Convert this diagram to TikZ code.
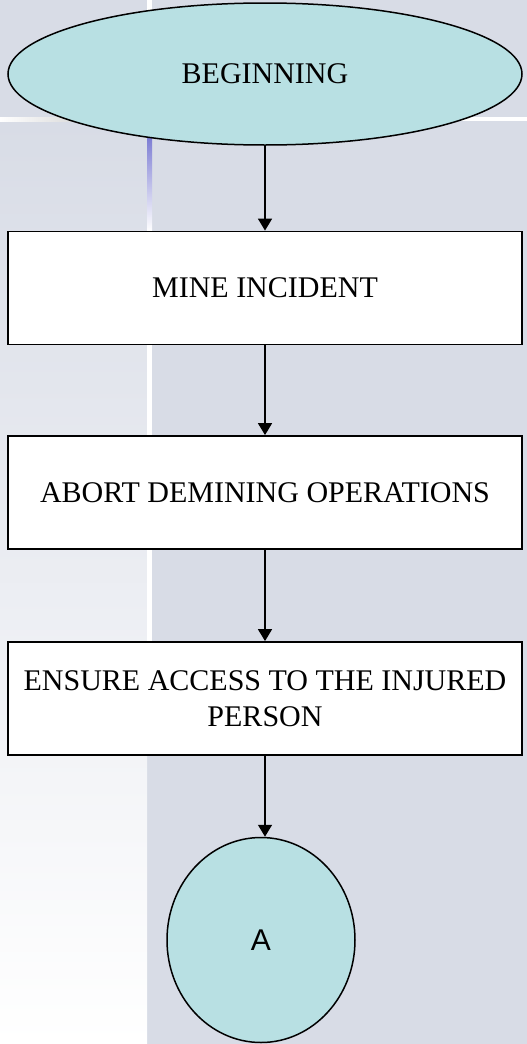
\documentclass[tikz,border=0pt]{standalone}
\usepackage{fontspec}
\setmainfont{Liberation Serif}
\newfontfamily\arialfont{Liberation Sans}
\usetikzlibrary{shapes.geometric,arrows.meta}
\definecolor{slidebg}{RGB}{216,220,230}
\definecolor{terminal}{RGB}{184,224,227}
\definecolor{accent}{RGB}{102,102,204}

\begin{document}
\begin{tikzpicture}[
        x=1pt, y=-1pt,
        every node/.style={font=\fontsize{30}{36}\selectfont},
        terminator/.style={
            ellipse,
            draw=black,
            fill=terminal,
            line width=1.5pt,
            inner sep=0pt,
        },
        process/.style={
            rectangle,
            draw=black,
            fill=white,
            line width=1.8pt,
            minimum width=514pt,
            minimum height=113pt,
            align=center,
            inner sep=0pt,
        },
        flow/.style={
            line width=1.5pt,
            -{Triangle[length=12pt,width=14pt]},
        },
    ]
    % slide background
    \useasboundingbox (0,0) rectangle (527,1044);
    \fill[slidebg] (0,0) rectangle (527,1044);
    \shade[top color=slidebg, bottom color=white] (0,121) rectangle (147,1044);
    \shade[left color=white, right color=gray!55] (0,117) rectangle (150,121);
    \fill[white] (150,117) rectangle (527,121);
    \fill[white] (147,0) rectangle (152,117);
    \shade[top color=accent, middle color=gray!50, bottom color=white] (147,121) rectangle (152,231);
    \fill[white] (147,231) rectangle (152,755);

    % flow chart
    \node[terminator, minimum width=514pt, minimum height=142pt] (begin) at (265,74) {BEGINNING};
    \node[process] (incident) at (265,288) {MINE INCIDENT};
    \node[process] (abort) at (265,492.5) {ABORT DEMINING OPERATIONS};
    \node[process] (access) at (265,698.5) {ENSURE ACCESS TO THE INJURED\\PERSON};
    \node[terminator, minimum width=188pt, minimum height=205pt,
        font=\arialfont\fontsize{30}{36}\selectfont] (pointA) at (261,940) {A};

    \foreach \from/\to in {begin/incident, incident/abort, abort/access}{
        \draw[flow] (\from) -- (\to);
    }
    \draw[flow] (access.south) -- (access.south |- pointA.north);
\end{tikzpicture}
\end{document}
